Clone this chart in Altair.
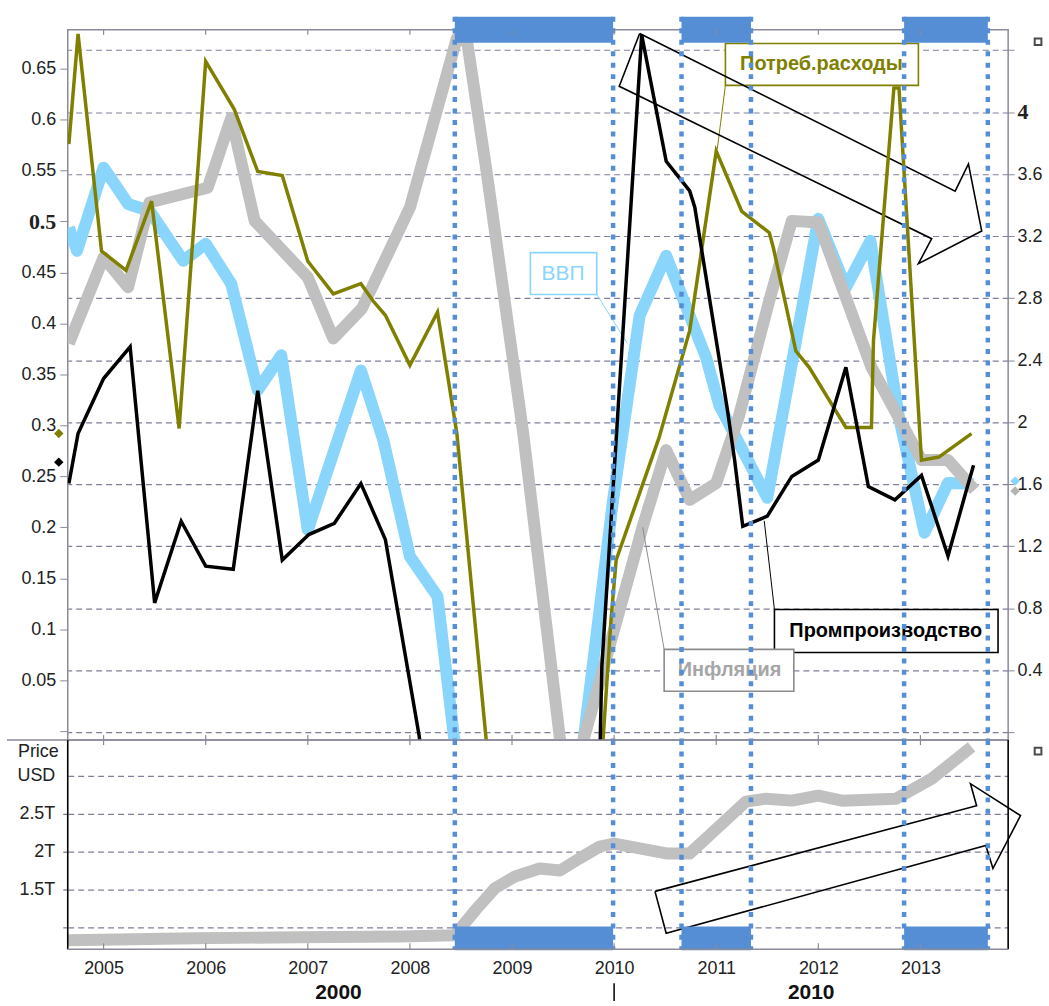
import altair as alt
import pandas as pd

# ---------------- data ----------------
years_axis = [2005, 2006, 2007, 2008, 2009, 2010, 2011, 2012, 2013]

# Потреб.расходы (left axis)
cons_year = [2004.66, 2004.75, 2004.98, 2005.22, 2005.47, 2005.74, 2006.00, 2006.28, 2006.51, 2006.75,
             2007.00, 2007.25, 2007.52, 2007.64, 2007.76, 2008.00, 2008.27, 2008.46, 2008.83, 2009.37,
             2009.86, 2009.97, 2010.02, 2010.44, 2010.74, 2011.00, 2011.25, 2011.52, 2011.56, 2011.78,
             2011.91, 2012.27, 2012.52, 2012.54, 2012.74, 2012.79, 2013.01, 2013.18, 2013.50]
cons_val = [0.576, 0.684, 0.471, 0.452, 0.520, 0.297, 0.657, 0.610, 0.549, 0.545,
            0.461, 0.429, 0.439, 0.422, 0.408, 0.359, 0.411, 0.292, -0.095, -0.163,
            -0.056, 0.110, 0.168, 0.288, 0.393, 0.569, 0.510, 0.489, 0.474, 0.373,
            0.357, 0.298, 0.298, 0.383, 0.631, 0.631, 0.266, 0.269, 0.292]

# Промпроизводство (left axis)
ind_year = [2004.66, 2004.75, 2005.00, 2005.26, 2005.50, 2005.76, 2006.00, 2006.27, 2006.51, 2006.75,
            2007.01, 2007.26, 2007.52, 2007.76, 2008.09, 2008.30, 2009.08, 2009.84, 2009.88, 2010.27,
            2010.51, 2010.74, 2010.79, 2011.11, 2011.18, 2011.26, 2011.50, 2011.74, 2012.00, 2012.27,
            2012.49, 2012.75, 2013.01, 2013.27, 2013.44, 2013.52]
ind_val = [0.243, 0.292, 0.346, 0.377, 0.126, 0.206, 0.162, 0.159, 0.334, 0.168,
           0.193, 0.204, 0.243, 0.188, -0.004, -0.163, -0.262, -0.115, 0.064, 0.683,
           0.559, 0.530, 0.514, 0.315, 0.266, 0.201, 0.211, 0.250, 0.266, 0.357,
           0.240, 0.227, 0.251, 0.172, 0.233, 0.261]

# ВВП (right axis)
gdp_year = [2004.66, 2004.74, 2005.00, 2005.24, 2005.45, 2005.78, 2006.00, 2006.25, 2006.51, 2006.74,
            2007.00, 2007.52, 2007.74, 2008.00, 2008.27, 2008.43, 2008.59, 2009.57, 2009.99, 2010.25,
            2010.51, 2010.90, 2011.03, 2011.50, 2012.00, 2012.27, 2012.51, 2012.79, 2013.04, 2013.27,
            2013.52]
gdp_val = [3.255, 3.105, 3.641, 3.407, 3.362, 3.041, 3.150, 2.893, 2.206, 2.431,
           1.306, 2.334, 1.884, 1.134, 0.877, -0.022, -0.752, -0.752, 1.499, 2.688,
           3.073, 2.418, 2.109, 1.512, 3.311, 2.868, 3.170, 2.032, 1.287, 1.608,
           1.602]

# Инфляция (right axis)
infl_year = [2004.66, 2005.00, 2005.24, 2005.45, 2006.02, 2006.25, 2006.48, 2007.00, 2007.25, 2007.53,
             2008.00, 2008.46, 2008.56, 2008.75, 2009.11, 2009.54, 2010.28, 2010.51, 2010.74, 2011.00,
             2011.22, 2011.52, 2011.74, 2012.00, 2012.52, 2013.01, 2013.27, 2013.53]
infl_val = [2.508, 3.062, 2.870, 3.416, 3.512, 3.962, 3.298, 2.934, 2.540, 2.733,
            3.384, 4.476, 4.455, 3.620, 1.927, -0.428, 1.327, 1.820, 1.499, 1.606,
            2.034, 2.784, 3.298, 3.287, 2.355, 1.756, 1.756, 1.563]

# Price, USD (trillions) - lower panel
price_year = [2004.65, 2005.13, 2005.89, 2006.90, 2007.91, 2008.44, 2008.64, 2008.83, 2009.03, 2009.27,
              2009.47, 2009.66, 2009.86, 2010.00, 2010.25, 2010.51, 2010.74, 2010.93, 2011.29, 2011.49,
              2011.74, 2012.00, 2012.23, 2012.76, 2013.11, 2013.50]
price_val = [0.83, 0.84, 0.855, 0.87, 0.88, 0.895, 1.224, 1.513, 1.671, 1.776,
             1.75, 1.908, 2.066, 2.105, 2.04, 1.974, 1.974, 2.21, 2.658, 2.697,
             2.671, 2.737, 2.671, 2.697, 2.96, 3.38]

# highlighted periods
band_start = [2008.44, 2010.66, 2012.84]
band_end = [2009.99, 2011.34, 2013.66]

left_ticks = [0, 0.05, 0.1, 0.15, 0.2, 0.25, 0.3, 0.35, 0.4, 0.45, 0.5, 0.55, 0.6, 0.65]
right_ticks = [0, 0.4, 0.8, 1.2, 1.6, 2, 2.4, 2.8, 3.2, 3.6, 4, 4.4]
price_ticks = [1, 1.5, 2, 2.5, 3]

# series labels (right-axis units)
lab_text = ["Потреб.расходы", "ВВП", "Промпроизводство", "Инфляция"]
lab_x0 = [2011.09, 2009.18, 2011.57, 2010.49]
lab_x1 = [2012.98, 2009.83, 2013.76, 2011.76]
lab_y0 = [4.172, 2.823, 0.515, 0.265]
lab_y1 = [4.442, 3.093, 0.792, 0.535]
lab_tx = [2012.03, 2009.50, 2012.66, 2011.13]
lab_ty = [4.307, 2.958, 0.654, 0.400]
lab_box = ["#808000", "#8AD5FB", "#000000", "#8C8C8C"]
lab_col = ["#808000", "#8AD5FB", "#000000", "#A6A6A6"]
lab_bold = [True, False, True, True]
lead_x0 = [2011.09, 2009.83, 2011.57, 2010.49]
lead_y0 = [4.172, 2.823, 0.792, 0.535]
lead_x1 = [2011.01, 2010.13, 2011.47, 2010.28]
lead_y1 = [3.761, 2.508, 1.364, 1.322]

# hollow arrows
arrow_top_year = [2010.25, 2013.34, 2013.47, 2013.60, 2012.98, 2013.11, 2010.05, 2010.25]
arrow_top_val = [4.506, 3.490, 3.665, 3.233, 3.022, 3.183, 4.166, 4.506]
arrow_bot_year = [2010.40, 2013.55, 2013.49, 2013.98, 2013.71, 2013.64, 2010.51, 2010.40]
arrow_bot_val = [1.474, 2.605, 2.895, 2.474, 1.776, 2.079, 0.921, 1.474]

# last-value markers
mark_left_val = [0.292, 0.264]
mark_left_col = ["#808000", "#000000"]
mark_right_val = [1.62, 1.556]
mark_right_col = ["#8AD5FB", "#B4B4B4"]

# decade labels
dec_text = ["2000", "2010"]
dec_x = [2007.30, 2011.93]
dec_sep = [2010.0]

# ---------------- chart ----------------
W, H1, H2 = 944, 713, 210
FONT = "Liberation Sans"
GRID = "#7F7F9C"
FRAME = "#8A8A9A"
BLUE = "#558ED5"

xs = alt.Scale(domain=[2004.649, 2013.859], nice=False, zero=False)
sL = alt.Scale(domain=[-0.0086, 0.688], nice=False, zero=False)
sR = alt.Scale(domain=[-0.05, 4.53], nice=False, zero=False)
sB = alt.Scale(domain=[0.71, 3.47], nice=False, zero=False)


def X(f):
    # top panel: no x axis at all
    return alt.X(f, type="quantitative", scale=xs, axis=None)


def XB(f):
    # bottom panel: axis is defined on the price layer only
    return alt.X(f, type="quantitative", scale=xs)


def df(**k):
    return pd.DataFrame(k)


one = df(a=[0])

axisR = alt.Axis(orient="right", values=right_ticks, grid=True, gridColor=GRID, gridDash=[6, 4],
                 gridWidth=1.2, domain=False, tickColor=FRAME, tickSize=6, labelPadding=3,
                 labelColor="#222222", labelOverlap=False, title=None,
                 labelExpr="datum.value == 0 || datum.value > 4.2 ? '' : format(datum.value, '~g')",
                 labelFont={"condition": {"test": "datum.value == 4", "value": "Liberation Serif"}, "value": FONT},
                 labelFontSize={"condition": {"test": "datum.value == 4", "value": 22}, "value": 18},
                 labelFontWeight={"condition": {"test": "datum.value == 4", "value": "bold"}, "value": "normal"})

axisL = alt.Axis(orient="left", values=left_ticks, grid=False, domain=False, tickColor=FRAME,
                 tickSize=8, labelPadding=4, labelColor="#222222", labelOverlap=False, title=None,
                 minExtent=60, maxExtent=60,
                 labelExpr="datum.value == 0 ? '' : format(datum.value, '~g')",
                 labelFont={"condition": {"test": "datum.value == 0.5", "value": "Liberation Serif"}, "value": FONT},
                 labelFontSize={"condition": {"test": "datum.value == 0.5", "value": 22}, "value": 18},
                 labelFontWeight={"condition": {"test": "datum.value == 0.5", "value": "bold"}, "value": "normal"})

axisB = alt.Axis(orient="left", values=price_ticks, grid=True, gridColor=GRID, gridDash=[6, 4],
                 gridWidth=1.2, domain=False, tickColor="#555555", tickSize=5, labelPadding=8,
                 labelColor="#222222", labelFont=FONT, labelFontSize=18, labelOverlap=False, title=None,
                 minExtent=60, maxExtent=60,
                 tickOpacity={"condition": {"test": "datum.value == 3", "value": 0}, "value": 1},
                 labelExpr="datum.value == 3 ? 'USD' : datum.value == 1 ? '' : format(datum.value, '~g') + 'T'")

axisX = alt.Axis(values=years_axis, format="d", ticks=False, domain=False, grid=False, labelPadding=10,
                 labelFontSize=18, labelFont=FONT, labelColor="#222222", title=None, labelFlush=False)


def YR(f):
    return alt.Y(f, type="quantitative", scale=sR)


def YL(f):
    return alt.Y(f, type="quantitative", scale=sL)


def YB(f):
    return alt.Y(f, type="quantitative", scale=sB)


# ---- top panel, right-axis group
gdp = alt.Chart(df(year=gdp_year, v=gdp_val)).mark_line(
    color="#8AD5FB", strokeWidth=12, clip=True, strokeJoin="round").encode(
    x=X("year"), y=alt.Y("v:Q", scale=sR, axis=axisR))
infl = alt.Chart(df(year=infl_year, v=infl_val)).mark_line(
    color="#C0C0C0", strokeWidth=12, clip=True, strokeJoin="round").encode(
    x=X("year"), y=YR("v"))

labdf = df(t=lab_text, x0=lab_x0, x1=lab_x1, y0=lab_y0, y1=lab_y1, tx=lab_tx, ty=lab_ty,
           bc=lab_box, tc=lab_col, bold=lab_bold,
           lx0=lead_x0, ly0=lead_y0, lx1=lead_x1, ly1=lead_y1)
leaders = alt.Chart(labdf).mark_rule(strokeWidth=1).encode(
    x=X("lx0"), x2="lx1", y=YR("ly0"), y2="ly1",
    color=alt.Color("bc:N", scale=None))
boxes = alt.Chart(labdf).mark_rect(fill="white", strokeWidth=1.6).encode(
    x=X("x0"), x2="x1", y=YR("y0"), y2="y1",
    stroke=alt.Stroke("bc:N", scale=None))
texts_b = alt.Chart(labdf).transform_filter("datum.bold").mark_text(
    font=FONT, fontSize=20, fontWeight="bold").encode(
    x=X("tx"), y=YR("ty"), text="t:N",
    color=alt.Color("tc:N", scale=None))
texts_n = alt.Chart(labdf).transform_filter("!datum.bold").mark_text(
    font=FONT, fontSize=21).encode(
    x=X("tx"), y=YR("ty"), text="t:N",
    color=alt.Color("tc:N", scale=None))
arrow_top = alt.Chart(df(year=arrow_top_year, v=arrow_top_val, i=list(range(len(arrow_top_val))))).mark_line(
    color="black", strokeWidth=1.6).encode(
    x=X("year"), y=YR("v"), order="i:Q")
mk_r = alt.Chart(df(v=mark_right_val, c=mark_right_col)).mark_point(
    shape="diamond", filled=True, size=90, opacity=1).encode(
    x=alt.value(W + 7), y=YR("v"), color=alt.Color("c:N", scale=None))

right_group = alt.layer(gdp, infl, leaders, boxes, texts_b, texts_n, arrow_top, mk_r)

# ---- top panel, left-axis group
cons = alt.Chart(df(year=cons_year, v=cons_val)).mark_line(
    color="#808000", strokeWidth=3.5, clip=True).encode(
    x=X("year"), y=alt.Y("v:Q", scale=sL, axis=axisL))
ind = alt.Chart(df(year=ind_year, v=ind_val)).mark_line(
    color="black", strokeWidth=3.5, clip=True).encode(
    x=X("year"), y=YL("v"))
mk_l = alt.Chart(df(v=mark_left_val, c=mark_left_col)).mark_point(
    shape="diamond", filled=True, size=90, opacity=1).encode(
    x=alt.value(-9), y=YL("v"), color=alt.Color("c:N", scale=None))

left_group = alt.layer(cons, ind, mk_l)

# ---- top panel overlay (no y scale)
edges = df(edge=band_start + band_end)
bands = df(s=band_start, e=band_end)
dotted_t = alt.Chart(edges).mark_rule(color=BLUE, strokeWidth=4.5, strokeDash=[5, 6.5]).encode(
    x=X("edge"), y=alt.value(-13), y2=alt.value(H1))
bars_t = alt.Chart(bands).mark_rect(color=BLUE).encode(
    x=X("s"), x2="e", y=alt.value(-13), y2=alt.value(13))
ticks_t = alt.Chart(df(year=years_axis)).mark_rule(color=FRAME, strokeWidth=1.2).encode(
    x=X("year"), y=alt.value(0), y2=alt.value(5))
sep_t = alt.Chart(one).mark_rule(color=FRAME, strokeWidth=1.5).encode(
    x=alt.value(-61), x2=alt.value(W), y=alt.value(H1))
icon_t = alt.Chart(one).mark_point(shape="square", filled=False, color="black", size=45, strokeWidth=2).encode(
    x=alt.value(W + 30), y=alt.value(12))

overlay_t = alt.layer(dotted_t, bars_t, ticks_t, sep_t, icon_t)

top = alt.layer(right_group, left_group, overlay_t).resolve_scale(y="independent").properties(
    width=W, height=H1, view=alt.ViewBackground(stroke=FRAME, strokeWidth=1.5))

# ---- bottom panel
price = alt.Chart(df(year=price_year, v=price_val)).mark_line(
    color="#C0C0C0", strokeWidth=12, clip=True, strokeJoin="round").encode(
    x=alt.X("year:Q", scale=xs, axis=axisX), y=alt.Y("v:Q", scale=sB, axis=axisB))
arrow_bot = alt.Chart(df(year=arrow_bot_year, v=arrow_bot_val, i=list(range(len(arrow_bot_val))))).mark_line(
    color="black", strokeWidth=1.6).encode(
    x=XB("year"), y=YB("v"), order="i:Q")
bars_b = alt.Chart(bands).mark_rect(color=BLUE).encode(
    x=XB("s"), x2="e", y=alt.value(187), y2=alt.value(H2 + 1))
dotted_b = alt.Chart(edges).mark_rule(color=BLUE, strokeWidth=4.5, strokeDash=[5, 6.5]).encode(
    x=XB("edge"), y=alt.value(0), y2=alt.value(H2))
ticks_b1 = alt.Chart(df(year=years_axis)).mark_rule(color=FRAME, strokeWidth=1.2).encode(
    x=XB("year"), y=alt.value(-5), y2=alt.value(5))
ticks_b2 = alt.Chart(df(year=years_axis)).mark_rule(color=FRAME, strokeWidth=1.2).encode(
    x=XB("year"), y=alt.value(H2 - 6), y2=alt.value(H2))
border_l = alt.Chart(one).mark_rule(color="black", strokeWidth=1.6).encode(
    x=alt.value(0), y=alt.value(0), y2=alt.value(H2))
border_r = alt.Chart(one).mark_rule(color="black", strokeWidth=1.6).encode(
    x=alt.value(W), y=alt.value(0), y2=alt.value(H2))
border_b = alt.Chart(one).mark_rule(color=FRAME, strokeWidth=1.6).encode(
    x=alt.value(0), x2=alt.value(W), y=alt.value(H2))
price_title = alt.Chart(df(t=["Price"])).mark_text(
    font=FONT, fontSize=18, align="right", baseline="middle", color="#222222").encode(
    x=alt.value(-9), y=alt.value(12), text="t:N")
dec_labels = alt.Chart(df(t=dec_text, x=dec_x)).mark_text(
    font=FONT, fontSize=21, fontWeight="bold", baseline="middle", color="#111111").encode(
    x=XB("x"), y=alt.value(254), text="t:N")
dec_rule = alt.Chart(df(x=dec_sep)).mark_rule(color="black", strokeWidth=1.5).encode(
    x=XB("x"), y=alt.value(244), y2=alt.value(262))
icon_b = alt.Chart(one).mark_point(shape="square", filled=False, color="black", size=45, strokeWidth=2).encode(
    x=alt.value(W + 30), y=alt.value(11))

bottom = alt.layer(price, arrow_bot, bars_b, dotted_b, ticks_b1, ticks_b2, border_l, border_r,
                   border_b, price_title, dec_labels, dec_rule, icon_b).properties(
    width=W, height=H2, view=alt.ViewBackground(stroke="transparent"))

chart = alt.vconcat(top, bottom, spacing=0, bounds="flush").properties(
    padding={"left": 5, "top": 12, "right": 2, "bottom": 2},
    background="white",
).configure(font=FONT)

chart.save("out.html", embed_options={"renderer": "svg", "actions": False})
